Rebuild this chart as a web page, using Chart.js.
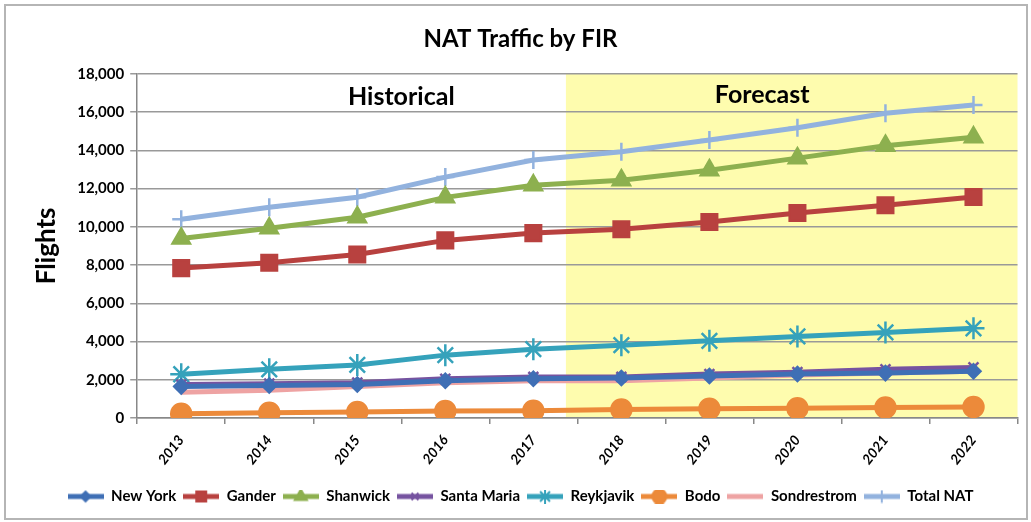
<!DOCTYPE html>
<html><head><meta charset="utf-8">
<script src="https://cdn.jsdelivr.net/npm/chart.js@4.4.1/dist/chart.umd.min.js"></script>
<style>html,body{margin:0;padding:0;background:#fff}#wrap{width:1031px;height:522px}</style>
</head><body><div id="wrap"><canvas id="c" width="1031" height="522"></canvas></div>
<script>
const years = ['2013','2014','2015','2016','2017','2018','2019','2020','2021','2022'];
const newYork    = [1650,1700,1750,1950,2050,2100,2200,2300,2350,2450];
const gander     = [7840,8120,8550,9290,9670,9870,10250,10720,11130,11560];
const shanwick   = [9390,9920,10500,11540,12170,12440,12960,13590,14240,14680];
const santaMaria = [1750,1800,1850,2050,2150,2150,2300,2400,2550,2650];
const reykjavik  = [2290,2550,2780,3290,3600,3810,4040,4270,4480,4690];
const bodo       = [230,280,320,370,380,450,490,510,550,580];
const sondrestrom= [1350,1450,1650,1850,1950,1950,2100,2250,2350,2450];
const totalNAT   = [10390,11020,11550,12600,13490,13920,14540,15180,15940,16370];
const yTicks = [0,2000,4000,6000,8000,10000,12000,14000,16000,18000];
const regionLabels = ['Historical','Forecast'];

const FONT = "Lato,'Open Sans',sans-serif";

function mk(label, data, color, style, radius){
  return {label, data, borderColor: color, backgroundColor: color, borderWidth: 5,
    pointStyle: style, pointRadius: radius, pointHoverRadius: radius, pointBorderWidth: 2.5,
    tension: 0, fill: false};
}
const datasets = [
  mk('New York', newYork, '#3f6fb5', 'rectRot', 7),
  mk('Gander', gander, '#b8413f', 'rect', 11),
  mk('Shanwick', shanwick, '#8db04f', 'triangle', 10),
  mk('Santa Maria', santaMaria, '#7653a0', 'crossRot', 7),
  mk('Reykjavik', reykjavik, '#35a2bb', 'star', 11),
  mk('Bodo', bodo, '#ec8a3a', 'circle', 10),
  mk('Sondrestrom', sondrestrom, '#eea3a3', false, 0),
  mk('Total NAT', totalNAT, '#92b2de', 'cross', 9),
];

const ICON_W = 36;
function legendIcon(ds){
  const cv = document.createElement('canvas'); cv.width = ICON_W; cv.height = 14;
  const g = cv.getContext('2d');
  g.strokeStyle = ds.borderColor; g.lineWidth = 5;
  g.beginPath(); g.moveTo(0,7); g.lineTo(ICON_W,7); g.stroke();
  if (ds.pointStyle) {
    g.fillStyle = ds.borderColor; g.lineWidth = 2;
    Chart.helpers.drawPoint(g, {pointStyle: ds.pointStyle, radius: Math.min(ds.pointRadius*0.7,7), rotation: 0, borderWidth: 2}, ICON_W/2, 7);
  }
  return cv;
}

const bgPlugin = {
  id: 'bg',
  beforeDraw(chart){
    const {ctx, chartArea:a, scales:{x}} = chart;
    ctx.save();
    ctx.fillStyle = '#fefcae';
    const x0 = x.getPixelForValue(4.37);
    ctx.fillRect(x0, a.top, a.right - x0, a.bottom - a.top);
    ctx.restore();
  },
  afterDraw(chart){
    const {ctx, chartArea:a, scales:{x}} = chart;
    ctx.save();
    ctx.strokeStyle = '#b5b5b5'; ctx.lineWidth = 2;
    ctx.strokeRect(5, 5, 1022, 514);
    ctx.fillStyle = '#000'; ctx.font = "bold 25px " + FONT;
    ctx.textAlign = 'center'; ctx.textBaseline = 'middle';
    ctx.fillText(regionLabels[0], x.getPixelForValue(2.5), a.top + 23);
    ctx.fillText(regionLabels[1], x.getPixelForValue(6.6), a.top + 21);
    ctx.restore();
  }
};

new Chart(document.getElementById('c'), {
  type: 'line',
  data: {labels: years, datasets},
  plugins: [bgPlugin],
  options: {
    responsive: false, animation: false,
    layout: {padding: {left: 10, right: 0, top: 20, bottom: 8}},
    plugins: {
      title: {display: true, text: 'NAT Traffic by FIR', color: '#000',
        font: {family: FONT, size: 24, weight: 'bold'}, padding: {top: 5, bottom: 20}},
      legend: {position: 'bottom',
        labels: {usePointStyle: true, pointStyleWidth: ICON_W, boxHeight: 14, color: '#000', padding: 7,
          font: {family: FONT, size: 15, weight: 'bold'},
          generateLabels(chart){
            return chart.data.datasets.map((ds,i)=>({text: ds.label, pointStyle: legendIcon(ds), datasetIndex: i,
              fillStyle: ds.borderColor, strokeStyle: ds.borderColor, lineWidth: 0, hidden: false, fontColor:'#000'}));
          }}},
      tooltip: {enabled: false}
    },
    scales: {
      x: {offset: true,
        afterFit(s){ s.height += 6; },
        grid: {display: true, drawOnChartArea: false, offset: true, color: '#888', tickLength: 6, lineWidth: 1.5},
        border: {color: '#888', width: 1.5},
        ticks: {color: '#000', font: {family: FONT, size: 14, weight: 'bold', style: 'italic'}, minRotation: 52, maxRotation: 52, padding: 8}},
      y: {min: 0, max: 18000,
        afterBuildTicks(s){ s.ticks = yTicks.map(v=>({value:v})); },
        afterFit(s){ s.width += 5; },
        grid: {color: '#999', lineWidth: 1.5, tickLength: 7},
        border: {color: '#888', width: 1.5},
        title: {display: true, text: 'Flights', color: '#000', font: {family: FONT, size: 26, weight: 'bold'}, padding: {top: 21, bottom: 4}},
        ticks: {color: '#000', font: {family: FONT, size: 15, weight: 'bold'}, padding: 6,
          callback: v => v.toLocaleString('en-US')}}
    }
  }
});
</script></body></html>
